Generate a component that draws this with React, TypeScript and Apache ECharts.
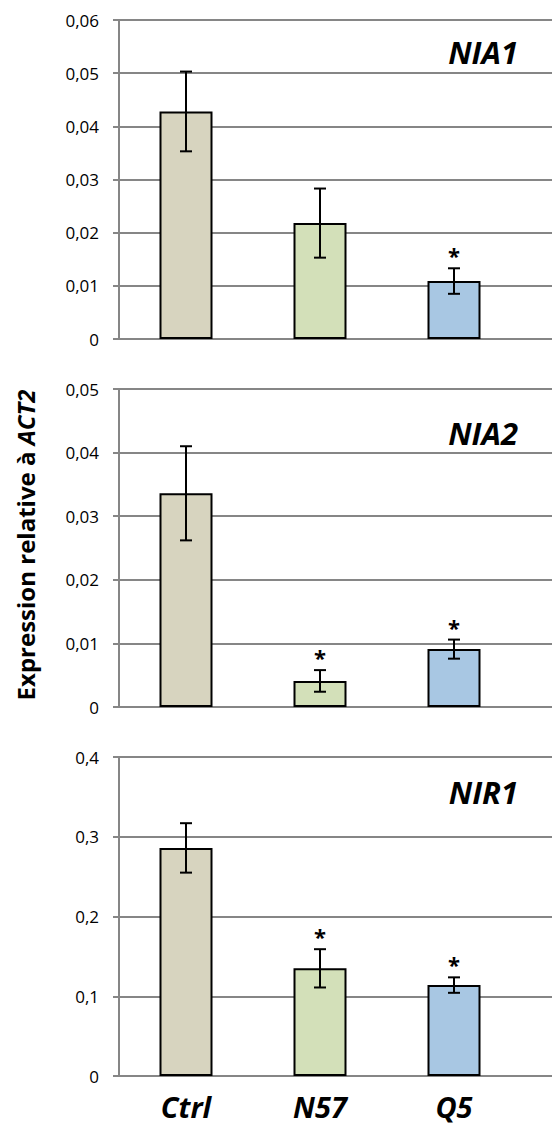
import React, { useEffect, useRef } from "react";
import * as echarts from "echarts";

const categories = ["Ctrl", "N57", "Q5"];
const genes = ["NIA1", "NIA2", "NIR1"];
const barColors = ["#d7d4bf", "#d3e0b9", "#a8c7e3"];

const nia1Means = [0.0428, 0.0218, 0.0109];
const nia1Errors = [0.0075, 0.0065, 0.0024];
const nia1Signif = [false, false, true];

const nia2Means = [0.0336, 0.0041, 0.0091];
const nia2Errors = [0.0074, 0.0017, 0.0015];
const nia2Signif = [false, true, true];

const nir1Means = [0.286, 0.135, 0.114];
const nir1Errors = [0.031, 0.024, 0.0097];
const nir1Signif = [false, true, true];

const yMaxes = [0.06, 0.05, 0.4];
const yIntervals = [0.01, 0.01, 0.1];
const yDecimals = [2, 2, 1];

const yTitle = "Expression relative à ";
const yTitleItalic = "ACT2";

const FONT = "'Open Sans', 'Noto Sans', sans-serif";

export default function App() {
  const ref = useRef<HTMLDivElement>(null);
  useEffect(() => {
    if (!ref.current) return;
    const chart = echarts.init(ref.current, null, { renderer: "svg" });
    const panels = [
      { means: nia1Means, errs: nia1Errors, sig: nia1Signif },
      { means: nia2Means, errs: nia2Errors, sig: nia2Signif },
      { means: nir1Means, errs: nir1Errors, sig: nir1Signif },
    ];
    const tops = [20, 389, 757];
    const heights = [319, 318, 319];
    const titleTops = [36, 417, 776];
    const left = 119;
    const barGridWidth = 402;

    const grid: any[] = [];
    const xAxis: any[] = [];
    const yAxis: any[] = [];
    const series: any[] = [];
    const title: any[] = [];

    panels.forEach((p, i) => {
      const fullIdx = i * 2;
      const barIdx = i * 2 + 1;
      grid.push({ left, right: 0, top: tops[i], height: heights[i] });
      grid.push({ left, width: barGridWidth, top: tops[i], height: heights[i] });
      xAxis.push({
        gridIndex: fullIdx,
        type: "category",
        data: categories,
        show: false,
      });
      yAxis.push({
        gridIndex: fullIdx,
        type: "value",
        min: 0,
        max: yMaxes[i],
        interval: yIntervals[i],
        axisLine: { show: true, lineStyle: { color: "#868686", width: 2 } },
        axisTick: { show: true, length: 6, lineStyle: { color: "#868686", width: 2 } },
        splitLine: { show: true, lineStyle: { color: "#868686", width: 2 } },
        axisLabel: {
          margin: 20,
          color: "#000",
          fontSize: 17,
          fontFamily: FONT,
          formatter: (v: number) =>
            v === 0 ? "0" : v.toFixed(yDecimals[i]).replace(".", ","),
        },
      });
      xAxis.push({
        gridIndex: barIdx,
        type: "category",
        data: categories,
        axisLine: { show: false },
        axisTick: { show: false },
        axisLabel: {
          show: i === 2,
          margin: 16,
          color: "#000",
          fontSize: 29,
          fontWeight: "bold",
          fontStyle: "italic",
          fontFamily: FONT,
        },
      });
      yAxis.push({
        gridIndex: barIdx,
        type: "value",
        min: 0,
        max: yMaxes[i],
        show: false,
        splitLine: { show: false },
      });
      series.push({
        type: "bar",
        xAxisIndex: barIdx,
        yAxisIndex: barIdx,
        barWidth: 53,
        z: 3,
        data: p.means.map((m, k) => ({
          value: m,
          itemStyle: { color: barColors[k], borderColor: "#000", borderWidth: 2 },
        })),
      });
      series.push({
        type: "custom",
        xAxisIndex: barIdx,
        yAxisIndex: barIdx,
        z: 4,
        data: p.means.map((m, k) => [k, m, p.errs[k], p.sig[k] ? 1 : 0]),
        renderItem: (params: any, api: any) => {
          const x = api.value(0);
          const m = api.value(1);
          const e = api.value(2);
          const s = api.value(3);
          const hi = api.coord([x, m + e]);
          const lo = api.coord([x, m - e]);
          const cx = hi[0];
          const style = { stroke: "#000", lineWidth: 2 };
          const children: any[] = [
            { type: "line", shape: { x1: cx, y1: hi[1], x2: cx, y2: lo[1] }, style },
            { type: "line", shape: { x1: cx - 6, y1: hi[1], x2: cx + 6, y2: hi[1] }, style },
            { type: "line", shape: { x1: cx - 6, y1: lo[1], x2: cx + 6, y2: lo[1] }, style },
          ];
          if (s) {
            children.push({
              type: "text",
              x: cx,
              y: hi[1] - 13,
              style: {
                text: "*",
                fill: "#000",
                font: `bold 22px ${FONT}`,
                align: "center",
                verticalAlign: "middle",
              },
            });
          }
          return { type: "group", children };
        },
      });
      title.push({
        text: genes[i],
        right: 34,
        top: titleTops[i],
        padding: 0,
        textStyle: {
          fontSize: 31,
          fontWeight: "bold",
          fontStyle: "italic",
          color: "#000",
          fontFamily: FONT,
        },
      });
    });

    chart.setOption({
      animation: false,
      backgroundColor: "#fff",
      title,
      grid,
      xAxis,
      yAxis,
      series,
      graphic: [
        {
          type: "text",
          x: 25,
          y: 545,
          rotation: Math.PI / 2,
          style: {
            text: `{n|${yTitle}}{i|${yTitleItalic}}`,
            align: "center",
            verticalAlign: "middle",
            rich: {
              n: { fontSize: 24, fontWeight: "bold", fontFamily: FONT, fill: "#000" },
              i: { fontSize: 24, fontWeight: "bold", fontStyle: "italic", fontFamily: FONT, fill: "#000" },
            },
          },
        },
      ],
    });
    return () => chart.dispose();
  }, []);
  return (
    <div
      ref={ref}
      style={{ position: "absolute", left: 0, top: 0, width: 552, height: 1126 }}
    />
  );
}
